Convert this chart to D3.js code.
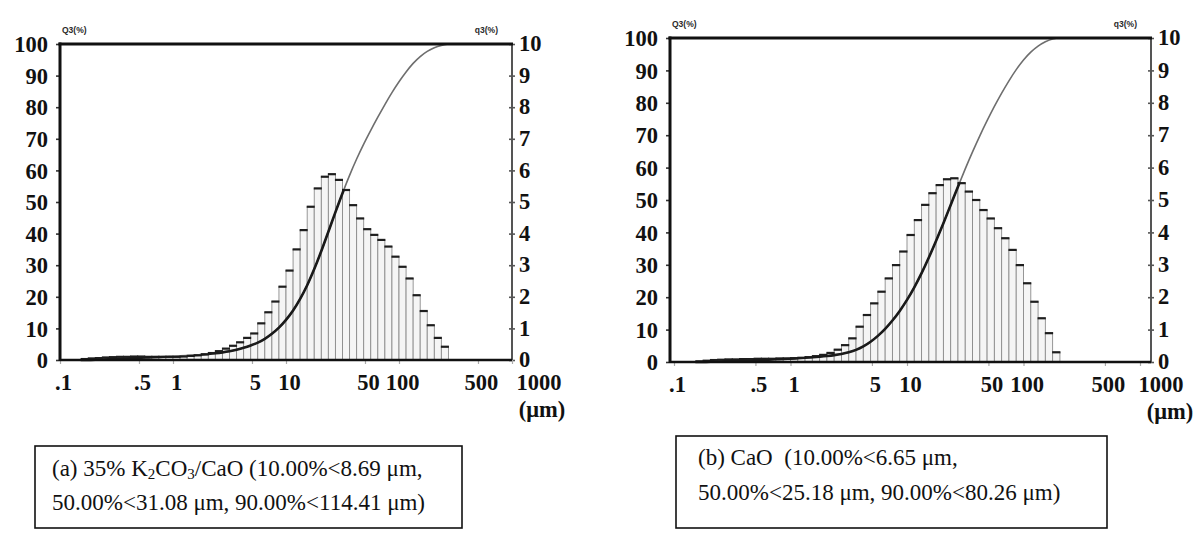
<!DOCTYPE html>
<html>
<head>
<meta charset="utf-8">
<script src="https://cdn.jsdelivr.net/npm/d3@7"></script>
<style>
  html, body { margin: 0; padding: 0; background: #fff; }
  svg { display: block; }
  .tick-label { font-family: "Liberation Serif", "Times New Roman", serif; font-weight: bold; font-size: 22.5px; fill: #111; }
  .caption { font-family: "Liberation Serif", "Times New Roman", serif; font-size: 23px; fill: #111; white-space: pre; }
  .unit-tag { font-family: "Liberation Sans", Arial, sans-serif; font-weight: bold; font-size: 8.5px; fill: #2a2a2a; }
</style>
</head>
<body>
<svg id="chart" width="1196" height="538"></svg>
<script>
// Particle size classes: channel edges in µm (16 channels per decade)
const binEdges = [
  0.1334, 0.1540, 0.1778, 0.2054, 0.2371, 0.2738, 0.3162, 0.3652, 0.4217, 0.4870,
  0.5623, 0.6494, 0.7499, 0.8660, 1.000, 1.155, 1.334, 1.540, 1.778, 2.054,
  2.371, 2.738, 3.162, 3.652, 4.217, 4.870, 5.623, 6.494, 7.499, 8.660,
  10.00, 11.55, 13.34, 15.40, 17.78, 20.54, 23.71, 27.38, 31.62, 36.52,
  42.17, 48.70, 56.23, 64.94, 74.99, 86.60, 100.0, 115.5, 133.4, 154.0,
  177.8, 205.4, 237.1, 273.8
];

// Frequency q3 (%) per channel, 35% K2CO3/CaO
const q3K2CO3CaO = [
  0.00, 0.03, 0.05, 0.06, 0.08, 0.09, 0.10, 0.10, 0.11, 0.11,
  0.10, 0.10, 0.10, 0.10, 0.10, 0.11, 0.13, 0.15, 0.18, 0.22,
  0.28, 0.36, 0.45, 0.56, 0.70, 0.84, 1.16, 1.51, 1.85, 2.32,
  2.83, 3.50, 4.11, 4.85, 5.43, 5.80, 5.88, 5.70, 5.38, 4.90,
  4.48, 4.14, 3.96, 3.80, 3.59, 3.27, 2.95, 2.58, 2.05, 1.55,
  1.10, 0.70, 0.42
];

// Frequency q3 (%) per channel, CaO
const q3CaO = [
  0.00, 0.02, 0.04, 0.06, 0.07, 0.08, 0.08, 0.09, 0.09, 0.10,
  0.10, 0.10, 0.11, 0.11, 0.12, 0.13, 0.15, 0.18, 0.22, 0.28,
  0.38, 0.52, 0.73, 1.09, 1.45, 1.81, 2.17, 2.58, 2.99, 3.41,
  3.92, 4.38, 4.85, 5.21, 5.46, 5.64, 5.67, 5.52, 5.26, 5.00,
  4.69, 4.43, 4.13, 3.82, 3.46, 2.99, 2.43, 1.86, 1.35, 0.89,
  0.30, 0.00, 0.00
];

const xTicks = [0.1, 0.5, 1, 5, 10, 50, 100, 500, 1000];
const xTickLabels = [".1", ".5", "1", "5", "10", "50", "100", "500", "1000"];
const cumTicks = [0, 10, 20, 30, 40, 50, 60, 70, 80, 90, 100];
const freqTicks = [0, 1, 2, 3, 4, 5, 6, 7, 8, 9, 10];

const captionA = [
  [["(a) 35% K", false], ["2", true], ["CO", false], ["3", true], ["/CaO (10.00%<8.69 μm,", false]],
  [["50.00%<31.08 μm, 90.00%<114.41 μm)", false]]
];
const captionB = [
  [["(b) CaO  (10.00%<6.65 μm,", false]],
  [["50.00%<25.18 μm, 90.00%<80.26 μm)", false]]
];

const svg = d3.select("#chart");
const defs = svg.append("defs");

function drawPanel(p) {
  const g = svg.append("g");
  const x = d3.scaleLog().domain([0.1, 1000]).range(p.xRange);
  const yCum = d3.scaleLinear().domain([0, 100]).range([p.bottom, p.top]);
  const yFreq = d3.scaleLinear().domain([0, 10]).range([p.bottom, p.top]);

  // histogram bars
  const bars = p.values.map((v, i) => ({ v, lo: binEdges[i], hi: binEdges[i + 1] }))
    .filter(d => d.v > 0);
  g.append("g").selectAll("rect").data(bars).join("rect")
    .attr("x", d => x(d.lo))
    .attr("width", d => x(d.hi) - x(d.lo))
    .attr("y", d => yFreq(d.v))
    .attr("height", d => yFreq(0) - yFreq(d.v))
    .attr("fill", "#f5f5f5")
    .attr("stroke", "#8c8c8c")
    .attr("stroke-width", 0.9);
  g.append("g").selectAll("line").data(bars).join("line")
    .attr("x1", d => x(d.lo) - 0.5).attr("x2", d => x(d.hi) + 0.5)
    .attr("y1", d => yFreq(d.v)).attr("y2", d => yFreq(d.v))
    .attr("stroke", "#1e1e1e").attr("stroke-width", 2.2);

  // region under the histogram, where the curve prints darker
  const clipId = "under-" + p.id;
  defs.append("clipPath").attr("id", clipId).selectAll("rect").data(bars).join("rect")
    .attr("x", d => x(d.lo) - 0.5)
    .attr("width", d => x(d.hi) - x(d.lo) + 1)
    .attr("y", d => yFreq(d.v) - 1)
    .attr("height", d => yFreq(0) - yFreq(d.v) + 3);

  // cumulative undersize Q3 from the channel frequencies
  const total = d3.sum(p.values);
  const running = d3.cumsum(p.values);
  const cum = [{ d: binEdges[0], q: 0 }].concat(
    p.values.map((v, i) => ({ d: binEdges[i + 1], q: running[i] / total * 100 })));
  const line = d3.line().x(d => x(d.d)).y(d => yCum(d.q)).curve(d3.curveMonotoneX);
  g.append("path").datum(cum)
    .attr("d", line).attr("fill", "none")
    .attr("stroke", "#6e6e6e").attr("stroke-width", 1.6);
  g.append("path").datum(cum)
    .attr("d", line).attr("fill", "none")
    .attr("clip-path", `url(#${clipId})`)
    .attr("stroke", "#1a1a1a").attr("stroke-width", 2.6);

  // left axis (cumulative %)
  const leftAxis = d3.axisLeft(yCum).tickValues(cumTicks).tickSize(4).tickPadding(8)
    .tickFormat(d3.format("d"));
  const la = g.append("g").attr("transform", `translate(${p.left},0)`).call(leftAxis);
  la.select(".domain").remove();
  la.selectAll(".tick line").attr("stroke", "#333").attr("stroke-width", 1.6);
  la.selectAll(".tick text").attr("class", "tick-label").attr("dy", "0.34em");

  // right axis (frequency %)
  const rightAxis = d3.axisRight(yFreq).tickValues(freqTicks).tickSize(3).tickPadding(4)
    .tickFormat(d3.format("d"));
  const ra = g.append("g").attr("transform", `translate(${p.right},0)`).call(rightAxis);
  ra.select(".domain").remove();
  ra.selectAll(".tick line").attr("stroke", "#555").attr("stroke-width", 1.6).attr("x1", -3);
  ra.selectAll(".tick text").attr("class", "tick-label").attr("dy", "0.30em");

  // bottom axis (particle diameter)
  const bottomAxis = d3.axisBottom(x).tickValues(xTicks).tickSize(4).tickPadding(10)
    .tickFormat((d, i) => xTickLabels[i]);
  const ba = g.append("g").attr("transform", `translate(0,${p.bottom})`).call(bottomAxis);
  ba.select(".domain").remove();
  ba.selectAll(".tick line").attr("stroke", "#aaa").attr("stroke-width", 1.2);
  ba.selectAll(".tick text").attr("class", "tick-label").attr("dy", "0.71em")
    .attr("text-anchor", d => d === 1000 ? "start" : "middle")
    .attr("dx", d => d === 1000 ? p.lastDx : 3);

  g.append("text").attr("class", "tick-label")
    .attr("x", p.unitX).attr("y", p.bottom + 57)
    .attr("text-anchor", "middle").text("(μm)");

  // frame
  g.append("line").attr("x1", p.right).attr("x2", p.right).attr("y1", p.top).attr("y2", p.bottom)
    .attr("stroke", "#555").attr("stroke-width", 2);
  g.append("line").attr("x1", p.left).attr("x2", p.right).attr("y1", p.bottom).attr("y2", p.bottom)
    .attr("stroke", "#111").attr("stroke-width", 2.6);
  g.append("line").attr("x1", p.left).attr("x2", p.left).attr("y1", p.top - 1.5).attr("y2", p.bottom + 1)
    .attr("stroke", "#111").attr("stroke-width", 3);
  g.append("line").attr("x1", p.left - 1.5).attr("x2", p.right + 1).attr("y1", p.top).attr("y2", p.top)
    .attr("stroke", "#111").attr("stroke-width", 3.2);

  // axis quantity tags
  g.append("text").attr("class", "unit-tag").attr("x", p.left + 2).attr("y", p.top - 11).text("Q3(%)");
  g.append("text").attr("class", "unit-tag").attr("x", p.right - 14).attr("y", p.top - 11)
    .attr("text-anchor", "end").text("q3(%)");

  // caption box
  const c = p.caption;
  g.append("rect").attr("x", c.x).attr("y", c.y).attr("width", c.w).attr("height", c.h)
    .attr("fill", "none").attr("stroke", "#111").attr("stroke-width", 1.6);
  c.lines.forEach((segs, li) => {
    const t = g.append("text").attr("class", "caption")
      .attr("x", c.x + c.pad).attr("y", c.y + c.first + li * c.lead);
    segs.forEach(([s, sub]) => {
      const ts = t.append("tspan").text(s);
      if (sub) ts.attr("font-size", "15px").attr("baseline-shift", "-3px");
    });
  });
}

drawPanel({
  id: "a", left: 60, right: 512, top: 44, bottom: 360, xRange: [60, 512], lastDx: 4, unitX: 542,
  values: q3K2CO3CaO,
  caption: { x: 35, y: 446, w: 427, h: 82, pad: 17, first: 30, lead: 34, lines: captionA }
});

drawPanel({
  id: "b", left: 670, right: 1151, top: 38, bottom: 362, xRange: [674, 1140], lastDx: -2, unitX: 1170,
  values: q3CaO,
  caption: { x: 676, y: 436, w: 431, h: 92, pad: 22, first: 29, lead: 35, lines: captionB }
});
</script>
</body>
</html>
